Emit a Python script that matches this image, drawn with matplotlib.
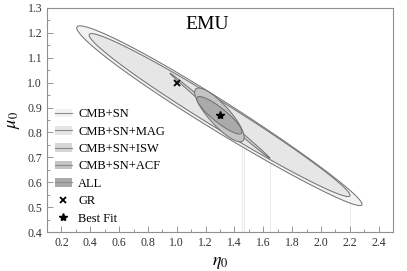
import numpy as np
import matplotlib
matplotlib.use('Agg')
import matplotlib.pyplot as plt
from matplotlib.patches import Polygon, Patch
from matplotlib.lines import Line2D

plt.rcParams['font.family'] = ['Liberation Serif', 'DejaVu Serif']
plt.rcParams['mathtext.fontset'] = 'stix'

# confidence regions, from widest to tightest
labels = ['CMB+SN', 'CMB+SN+MAG', 'CMB+SN+ISW', 'CMB+SN+ACF', 'ALL']
# upper-left and lower-right tips of each region
eta_tip1 = [0.308, 0.393, 0.953, 1.133, 1.142]
mu_tip1 = [1.224, 1.194, 1.038, 0.975, 0.941]
eta_tip2 = [2.284, 2.201, 1.647, 1.459, 1.450]
mu_tip2 = [0.509, 0.545, 0.696, 0.766, 0.797]
# half thickness in mu at the middle of each region
mu_halfwidth = [0.070, 0.060, 0.008, 0.062, 0.036]
# taper: >0 means fatter at the upper-left end
taper = [0.10, 0.05, 0.0, 0.0, 0.0]

gr_point = (1.0, 1.0)
best_fit = (1.30, 0.87)

fills = ['#f2f2f2', '#e6e6e6', '#d6d6d6', '#c4c4c4', '#aaaaaa']
edge = '#6e6e6e'

xlim = (0.1, 2.5)
ylim = (0.4, 1.3)


def region_outline(ax, k):
    ''' Builds an elongated ellipse-like outline in pixel space so that the
    width is measured perpendicular to the long axis on screen. '''
    bb = ax.get_window_extent()
    sx = bb.width / (xlim[1] - xlim[0])
    sy = bb.height / (ylim[1] - ylim[0])
    a = np.array([eta_tip1[k] * sx, mu_tip1[k] * sy])
    b = np.array([eta_tip2[k] * sx, mu_tip2[k] * sy])
    m = (a + b) / 2
    L = np.linalg.norm(b - a) / 2
    u = (b - a) / (2 * L)
    n = np.array([-u[1], u[0]])
    w = mu_halfwidth[k] * sy * abs(u[0])
    th = np.linspace(0, 2 * np.pi, 400)
    c, s = np.cos(th), np.sin(th)
    pts = m + np.outer(-c * L, u) + np.outer(s * (1 + taper[k] * c) * w, n)
    return np.column_stack((pts[:, 0] / sx, pts[:, 1] / sy))


fig = plt.figure(figsize=(4.07, 2.71), dpi=100)
ax = fig.add_axes([0.1155, 0.1439, 0.8501, 0.8266])
ax.set_xlim(*xlim)
ax.set_ylim(*ylim)

for k in range(len(labels)):
    xy = region_outline(ax, k)
    ax.add_patch(Polygon(xy, closed=True, facecolor=fills[k], edgecolor=edge,
                         lw=0.7, zorder=2 + k))
    # faint rendering streak below the lower tip
    if k > 0:
        i = np.argmax(xy[:, 0])
        ax.vlines(xy[i, 0], ylim[0], xy[i, 1], color='#e4e4e4', lw=0.6, zorder=1)

ax.plot(*gr_point, marker='x', color='k', ms=4, mew=1.3, zorder=10)
ax.plot(*best_fit, marker='*', color='k', ms=6, zorder=10)

ax.text(1.21, 1.235, 'EMU', fontsize=14, ha='center', va='center')

ax.set_xlabel(r'$\eta_0$', fontsize=13, labelpad=4)
ax.set_ylabel(r'$\mu_0$', fontsize=13, labelpad=4)

ax.set_xticks(np.arange(0.2, 2.41, 0.2))
ax.set_xticks(np.arange(0.1, 2.5, 0.1), minor=True)
ax.set_yticks(np.arange(0.4, 1.31, 0.1))
ax.set_yticks(np.arange(0.4, 1.3, 0.05), minor=True)
ax.xaxis.set_major_formatter(matplotlib.ticker.FormatStrFormatter('%.1f'))
ax.yaxis.set_major_formatter(matplotlib.ticker.FormatStrFormatter('%.1f'))
ax.tick_params(which='both', direction='in', top=False, right=False,
               color='#888888', labelsize=8.5, labelcolor='#333333')
ax.tick_params(which='major', length=4, width=0.6)
ax.tick_params(which='minor', length=2, width=0.6)
for sp in ax.spines.values():
    sp.set_color('#909090')
    sp.set_linewidth(0.8)

handles = [(Patch(facecolor=f, edgecolor='none'), Line2D([], [], color='#8a8a8a', lw=0.8))
           for f in fills]
handles.append(Line2D([], [], ls='none', marker='x', color='k', ms=4, mew=1.3))
handles.append(Line2D([], [], ls='none', marker='*', color='k', ms=6))
ax.legend(handles, labels + ['GR', 'Best Fit'], loc='lower left',
          bbox_to_anchor=(0.0, 0.0), frameon=False, fontsize=9,
          handlelength=1.4, handletextpad=0.5, labelspacing=0.43,
          borderaxespad=0.2)

fig.savefig('out.png', dpi=100)
